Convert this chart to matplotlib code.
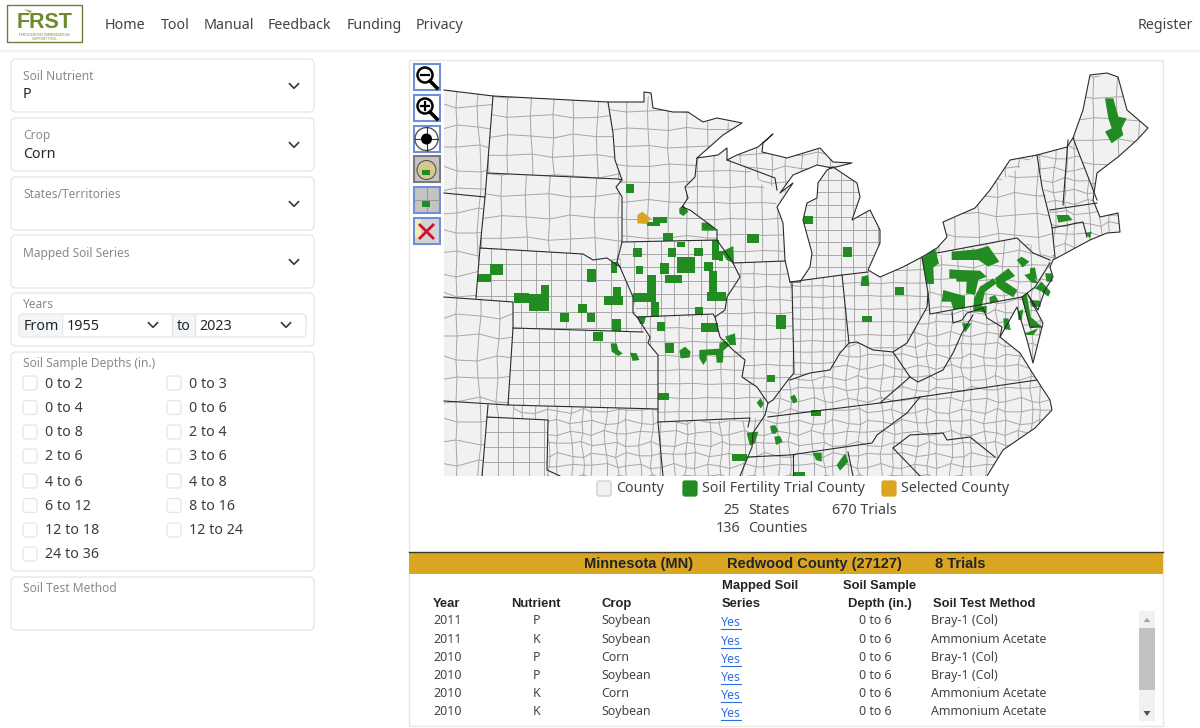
import matplotlib
matplotlib.use("Agg")
import matplotlib.pyplot as plt
from matplotlib.patches import FancyBboxPatch, Rectangle, Polygon, Circle, PathPatch
from matplotlib.collections import LineCollection
from matplotlib.path import Path

plt.rcParams['font.family'] = ['Noto Sans', 'DejaVu Sans']

GREEN = '#228b22'
GOLD = '#daa520'
LAND = '#f1f1f1'
COUNTY = '#a6a6a6'
INK = '#212529'
MUTED = '#858b90'
EDGE = '#e3e5e8'
BOLD_FONT = ['Liberation Sans', 'DejaVu Sans']

nav_items = [("Home", 105), ("Tool", 161), ("Manual", 204), ("Feedback", 268), ("Funding", 347), ("Privacy", 416)]
select_labels = ["Soil Nutrient", "Crop", "States/Territories", "Mapped Soil Series"]
select_values = ["P", "Corn", "", ""]
depths_left = ["0 to 2", "0 to 4", "0 to 8", "2 to 6", "4 to 6", "6 to 12", "12 to 18", "24 to 36"]
depths_right = ["0 to 3", "0 to 6", "2 to 4", "3 to 6", "4 to 8", "8 to 16", "12 to 24"]

trial_years = ["2011", "2011", "2010", "2010", "2010", "2010"]
trial_nutrients = ["P", "K", "P", "P", "K", "K"]
trial_crops = ["Soybean", "Soybean", "Corn", "Soybean", "Corn", "Soybean"]
trial_depths = ["0 to 6"] * 6
trial_methods = ["Bray-1 (Col)", "Ammonium Acetate", "Bray-1 (Col)", "Bray-1 (Col)", "Ammonium Acetate", "Ammonium Acetate"]

# map shapes, in screenshot pixels
coast = [(444,90),(493,96),(608,102),(644,102),(644,92),(651,93),(653,108),(673,112),(688,112),(703,122),(717,118),
         (742,123),(723,135),(697,158),(718,155),(727,148),(727,160),(737,155),(758,147),(773,134),(763,143),(762,152),
         (787,158),(820,148),(833,162),(852,163),(832,168),(817,165),(793,175),(780,193),(793,183),(777,207),(783,223),
         (785,260),(790,282),(800,282),(810,267),(812,253),(803,220),(807,203),(817,198),(818,183),(827,170),(833,167),
         (857,183),(860,197),(852,220),(870,210),(880,230),(880,243),(868,270),(880,277),(903,267),(922,257),(937,248),
         (947,237),(943,222),(975,208),(990,190),(1010,160),(1037,155),(1067,147),(1073,138),(1083,110),(1090,75),
         (1107,73),(1118,77),(1127,110),(1148,128),(1137,140),(1118,157),(1097,173),(1093,200),(1100,217),(1118,213),
         (1120,232),(1107,233),(1090,240),(1053,260),(1050,267),(1053,277),(1045,290),(1038,310),(1027,293),(1043,323),
         (1033,363),(1027,340),(1017,307),(1000,337),(1020,353),(1035,377),(1050,400),(1052,410),(1035,428),(1003,450),
         (987,476),(444,476)]

state_borders = [
    [(493,96),(487,173),(485,197),(480,248),(476,298)],
    [(487,173),(618,179),(622,180)],
    [(444,193),(485,197)],
    [(608,102),(613,133),(615,160),(622,180),(616,187),(622,197),(622,242),(717,240)],
    [(697,158),(695,177),(685,187),(688,198),(682,207),(690,210),(717,230),(717,240),(733,263),(740,277),(727,297),(725,310),(715,317)],
    [(444,297),(513,302),(513,328),(508,405),(658,409)],
    [(480,248),(583,254),(593,260),(607,258),(620,267),(633,297),(633,313),(637,317),(650,337),(648,343),(658,355),(658,422),(663,476)],
    [(622,242),(617,262),(620,267)],
    [(513,328),(643,332)],
    [(637,317),(713,314),(715,317),(720,337),(733,350),(745,360),(742,377),(757,387),(768,403),(765,415),(753,433),(752,447),(740,476)],
    [(444,401),(508,405)],
    [(488,405),(487,417),(548,420),(547,470),(560,476)],
    [(487,417),(482,476)],
    [(658,422),(750,418),(748,427)],
    [(733,263),(785,261)],
    [(792,283),(794,373),(788,380),(773,400),(768,403)],
    [(790,282),(842,275),(868,272)],
    [(842,275),(849,343),(840,353),(830,370),(810,373),(790,380)],
    [(849,343),(857,342),(873,350),(893,352),(907,343),(927,307),(928,293)],
    [(922,257),(928,293),(930,314),(1022,297),(1035,287),(1050,263)],
    [(937,253),(1017,238),(1033,253),(1050,260)],
    [(952,312),(953,323),(962,320),(967,313),(983,308),(987,318),(1002,327),(1000,337)],
    [(893,352),(910,377),(918,382),(943,370),(953,353),(962,333),(973,315)],
    [(768,417),(880,403),(920,397),(1037,380)],
    [(880,403),(910,377)],
    [(920,397),(907,413),(877,435),(872,443),(790,455),(748,457)],
    [(893,448),(910,435),(943,433),(947,440),(970,437),(995,457)],
    [(893,448),(920,476)],
    [(848,452),(853,476)],
    [(793,455),(793,476)],
    [(1022,297),(1030,327),(1042,327)],
    [(1037,155),(1042,187),(1052,227),(1055,257)],
    [(1050,210),(1097,203)],
    [(1052,228),(1083,222),(1087,237)],
    [(1063,205),(1068,140)],
    [(1073,138),(1097,200)],
    [(727,160),(775,178),(777,190)],
]

# county meshes: region outline, column step, row step, wobble
base_regions = [
    ([(440,85),(513,85),(513,480),(440,480)], 19, 21, 3),
    ([(513,400),(1160,70),(1160,480),(513,480)], 11.5, 11, 2.5),
    ([(727,140),(855,140),(855,178),(790,195),(727,165)], 15, 14, 2),
]
state_regions = [
    ([(493,96),(608,102),(613,133),(615,160),(622,180),(487,173)], 22, 20, 2),
    ([(487,173),(622,180),(616,187),(622,197),(622,242),(620,267),(607,258),(593,260),(583,254),(480,248)], 23, 22, 2),
    ([(608,102),(644,102),(651,93),(653,108),(688,112),(703,122),(742,123),(697,158),(695,177),(685,187),(688,198),
      (682,207),(690,210),(717,230),(717,240),(622,242),(622,197),(616,187),(622,180),(615,160),(613,133)], 20, 18, 1.5),
    ([(480,248),(583,254),(593,260),(607,258),(620,267),(633,297),(637,317),(650,337),(643,332),(513,328),(513,302),(476,298)], 15, 16, 0),
    ([(622,242),(717,240),(733,263),(740,277),(727,297),(725,310),(715,317),(637,317),(633,297),(620,267)], 13.5, 13.5, 0),
    ([(513,328),(643,332),(650,337),(648,343),(658,355),(658,409),(508,405)], 15.3, 14, 0),
    ([(637,317),(713,314),(720,337),(733,350),(745,360),(742,377),(757,387),(768,403),(765,415),(748,420),(658,422),(658,355),(648,343),(650,337)], 14, 14, 0.7),
    ([(733,263),(785,261),(792,283),(794,373),(788,380),(773,400),(768,403),(757,387),(742,377),(745,360),(733,350),(720,337),(715,317),(725,310),(727,297),(740,277)], 13, 13, 0.7),
    ([(790,282),(842,275),(849,343),(840,353),(830,370),(810,373),(790,380),(794,373)], 11, 11, 0.5),
    ([(842,275),(868,272),(880,277),(903,267),(922,257),(928,293),(927,307),(907,343),(893,352),(873,350),(857,342),(849,343)], 13, 13, 0.5),
    ([(812,253),(803,220),(807,203),(817,198),(818,183),(827,170),(833,167),(857,183),(860,197),(852,220),(870,210),(880,230),(880,243),(868,272),(810,280)], 12.5, 12.5, 0),
    ([(697,158),(718,155),(745,165),(775,200),(783,223),(785,261),(733,263),(717,240),(717,230),(690,210),(682,207),(688,198),(685,187),(695,177)], 16, 16, 0.7),
    ([(487,417),(548,420),(547,476),(482,476)], 15.5, 15, 0),
    ([(928,258),(1017,238),(1033,253),(1050,262),(1035,287),(1022,297),(930,314)], 15, 14, 2),
    ([(943,222),(1037,155),(1052,227),(1055,257),(1017,238),(937,253)], 20, 20, 2.5),
    ([(1073,138),(1083,110),(1090,75),(1118,77),(1148,128),(1097,200)], 22, 22, 2),
]
wiggle = [0, 2, -3, 1, 3, -2, -1, 3, -3, 2, 1, -2, 3, -1, -3, 2, 0, -2]

west_origin = (440, 180)
east_origin = (790, 60)
west_rects = [(557,12,583,38),(620,125,660,138),(640,112,682,130),(668,158,700,183),(710,185,735,200),(578,205,605,232),
              (684,204,708,230),(762,204,788,228),(816,180,838,240),(838,212,850,243),(922,162,958,188),(512,245,530,280),
              (150,252,190,285),(115,283,152,306),(442,267,467,306),(588,258,608,283),(660,250,688,283),(712,230,765,280),
              (792,247,818,272),(808,272,832,355),(675,285,725,310),(622,285,648,340),(578,340,648,365),(632,365,658,410),
              (802,335,858,362),(765,382,790,405),(222,338,268,368),(268,342,328,393),(303,316,328,342),(492,348,550,375),
              (518,322,544,350),(414,373,440,400),(360,400,386,425),(440,400,464,426),(516,417,544,452),(458,455,490,482),
              (652,426,674,452),(783,428,833,455),(1008,406,1038,446),(674,490,702,520),(980,585,1006,605),(654,638,686,660),
              (875,822,920,842),(1060,875,1080,888)]
west_polys = [
    [(718,85),(730,75),(745,95),(730,108),(718,100)], [(785,128),(805,128),(830,152),(785,152)],
    [(845,215),(880,198),(882,250),(860,240)], [(512,490),(530,490),(535,510),(548,520),(535,528),(515,515)],
    [(570,518),(590,520),(598,540),(578,543)], [(718,512),(735,500),(752,515),(748,533),(722,535)],
    [(778,510),(850,505),(850,530),(848,548),(830,548),(828,525),(800,525),(800,540),(790,555),(778,535)],
    [(838,490),(855,482),(870,495),(850,512),(838,510)], [(855,470),(885,460),(888,495),(870,495)],
    [(950,668),(962,655),(972,672),(962,685)], [(1052,655),(1062,643),(1072,660),(1062,670)],
    [(990,738),(1005,735),(1015,752),(1005,762),(995,760)], [(1003,770),(1020,768),(1028,785),(1008,795)],
    [(920,758),(955,755),(945,790),(930,797),(925,780)], [(592,410),(618,410),(612,432),(600,432)],
]
east_rects = [(42,468,68,493),(158,562,185,590),(316,680,343,705),(216,768,245,787),(62,1050,92,1068),(12,1237,46,1248)]
east_polys = [
    [(945,115),(970,115),(985,170),(1010,175),(995,205),(1000,225),(965,250),(945,215),(965,205),(955,175)],
    [(800,465),(835,465),(848,480),(805,488)], [(885,520),(905,515),(900,535)],
    [(215,650),(235,645),(238,678),(212,678)], [(0,1010),(15,1005),(22,1025),(10,1030)],
    [(68,1178),(95,1178),(95,1205),(78,1200)], [(140,1215),(165,1180),(175,1205),(150,1232)],
    [(395,595),(435,565),(447,610),(430,622),(432,672),(410,672)],
    [(485,575),(560,568),(595,558),(628,605),(595,620),(565,600),(485,600)],
    [(478,628),(510,630),(570,632),(590,650),(565,660),(555,705),(528,700),(530,665),(500,665),(498,655),(478,655)],
    [(460,690),(495,700),(525,708),(525,745),(490,748),(483,725),(455,725)],
    [(570,680),(610,655),(620,670),(585,695),(575,740),(550,745),(552,715)],
    [(550,740),(590,738),(590,760),(570,755),(550,755)],
    [(615,655),(655,625),(675,648),(645,665),(682,690),(670,712),(640,695),(620,680)],
    [(598,712),(615,705),(625,722),(600,732)], [(680,600),(695,590),(718,605),(698,622)],
    [(720,625),(735,622),(742,660),(720,650)], [(703,645),(720,640),(745,670),(725,668)],
    [(735,685),(755,665),(782,695),(775,710),(755,695)], [(765,640),(785,640),(788,665),(770,665)],
    [(695,710),(710,700),(722,770),(755,800),(720,805),(708,760)], [(720,720),(750,722),(752,740),(725,740)],
    [(640,775),(655,775),(662,810),(642,808)], [(683,755),(700,748),(695,780),(685,780)],
    [(705,820),(745,805),(730,825),(710,825)], [(516,790),(545,790),(525,818)],
]
selected_county = [(592,130),(592,105),(607,95),(632,115),(620,132)]

fig = plt.figure(figsize=(12, 7.28), dpi=100)
ax = fig.add_axes([0, 0, 1, 1])
ax.set_xlim(0, 1200)
ax.set_ylim(728, 0)
ax.axis('off')


def label(x, y, s, size=14.3, color=INK, ha='left', weight='normal'):
    fam = BOLD_FONT if weight == 'bold' else plt.rcParams['font.family']
    return ax.text(x, y + 1, s, fontsize=size * 0.72, color=color, ha=ha, va='center', fontweight=weight, family=fam)


def panel(x0, y0, x1, y1, fc='white', ec=EDGE, r=5):
    ax.add_patch(FancyBboxPatch((x0 + r, y0 + r), x1 - x0 - 2 * r, y1 - y0 - 2 * r, boxstyle=f"round,pad={r},rounding_size={r}",
                                fc=fc, ec=ec, lw=0.9))


def chevron(x, y):
    ax.plot([x - 4.5, x, x + 4.5], [y - 2.3, y + 2.3, y - 2.3], color='#343a40', lw=1.2)


def from_crop(pts, origin):
    return [(origin[0] + p[0] / 3, origin[1] + p[1] / 3) for p in pts]


def rect_pts(r):
    return [(r[0], r[1]), (r[2], r[1]), (r[2], r[3]), (r[0], r[3])]


# navbar
ax.add_patch(Rectangle((0, 50), 1200, 1, fc='#e9e9e9', ec='none'))
ax.add_patch(Rectangle((0, 51), 1200, 2, fc='#f7f7f7', ec='none'))
ax.add_patch(Rectangle((7, 5), 75, 37, fc='white', ec='#6f7d3a', lw=1))
ax.text(44.5, 22.5, "FRST", fontsize=15.5, fontweight='bold', family=BOLD_FONT, color='#6d8b2a', ha='center', va='center')
ax.text(44.5, 36.5, "FERTILIZER RECOMMENDATION\nSUPPORT TOOL", fontsize=2.4, color='#6d8b2a', ha='center', va='center', linespacing=1)
ax.add_patch(Polygon([(24, 9), (32, 11), (30, 13)], fc='#8aa93a', ec='none'))
for name, x in nav_items:
    label(x, 24.5, name, color='#3f4448')
label(1193, 24.5, "Register", color='#3f4448', ha='right')

# form panels
select_tops = [59, 118, 177, 235]
for top, name, value in zip(select_tops, select_labels, select_values):
    panel(11, top, 314, top + 53)
    label(23, top + 17, name, size=12, color=MUTED)
    if value:
        label(23, top + 35, value)
    chevron(294, top + 27)

panel(11, 293, 314, 346)
label(23, 303, "Years", size=12, color=MUTED)
panel(19, 314, 306, 337, r=4)
ax.add_patch(Rectangle((20, 315), 41, 21, fc='#f3f5f7', ec='none'))
ax.add_patch(Rectangle((172, 315), 23, 21, fc='#f3f5f7', ec='none'))
ax.plot([61.5, 61.5], [315, 336], color=EDGE, lw=1)
ax.plot([172, 172], [315, 336], color=EDGE, lw=1)
ax.plot([195, 195], [315, 336], color=EDGE, lw=1)
label(24, 325, "From")
label(67, 325, "1955")
label(177, 325, "to")
label(199, 325, "2023")
chevron(153, 325)
chevron(286, 325)

panel(11, 352, 314, 571)
label(23, 362, "Soil Sample Depths (in.)", size=12, color=MUTED)
row_y = [383, 407.5, 432, 456, 481, 505.5, 530, 554]
for y, name in zip(row_y, depths_left):
    panel(23, y - 7, 37, y + 7, r=3)
    label(45, y, name, color='#3a3f44')
for y, name in zip(row_y, depths_right):
    panel(167, y - 7, 181, y + 7, r=3)
    label(189, y, name, color='#3a3f44')

panel(11, 577, 314, 630)
label(23, 587, "Soil Test Method", size=12, color=MUTED)

# map panel
ax.add_patch(Rectangle((408.5, 59.5), 754, 666, fc='white', ec='#e6e6e6', lw=1))
ax.add_patch(Polygon(coast, closed=True, fc=LAND, ec='none', zorder=1))


def mesh_lines(poly, dx, dy, wob):
    xs = [p[0] for p in poly]
    ys = [p[1] for p in poly]
    x0, x1, y0, y1 = min(xs), max(xs), min(ys), max(ys)
    cols = [x0 + i * dx for i in range(int((x1 - x0) / dx) + 2)]
    rows = [y0 + j * dy for j in range(int((y1 - y0) / dy) + 2)]

    def node(i, j):
        return (cols[i] + wiggle[(i * 5 + j * 3) % len(wiggle)] * wob / 3,
                rows[j] + wiggle[(i * 7 + j * 2) % len(wiggle)] * wob / 3)

    segs = [[node(i, j) for i in range(len(cols))] for j in range(len(rows))]
    segs += [[node(i, j) for j in range(len(rows))] for i in range(len(cols))]
    return segs


def draw_mesh(poly, dx, dy, wob, z):
    lc = LineCollection(mesh_lines(poly, dx, dy, wob), colors=COUNTY, linewidths=0.7, zorder=z)
    ax.add_collection(lc)
    lc.set_clip_path(Polygon(poly, closed=True, transform=ax.transData))


for poly, dx, dy, wob in base_regions:
    draw_mesh(poly, dx, dy, wob, 2)
for poly, dx, dy, wob in state_regions:
    ax.add_patch(Polygon(poly, closed=True, fc=LAND, ec='none', zorder=2.1))
    draw_mesh(poly, dx, dy, wob, 2.2)

# cut anything outside the land outline back to white
outside = [(420, 62), (1162, 62), (1162, 480), (420, 480), (420, 62)] + coast[::-1] + [coast[-1]]
codes = [Path.MOVETO] + [Path.LINETO] * 3 + [Path.CLOSEPOLY] + [Path.MOVETO] + [Path.LINETO] * (len(coast) - 1) + [Path.CLOSEPOLY]
ax.add_patch(PathPatch(Path(outside, codes), fc='white', ec='none', zorder=2.5))

for r in west_rects:
    ax.add_patch(Polygon(from_crop(rect_pts(r), west_origin), closed=True, fc=GREEN, ec='none', zorder=3))
for r in east_rects:
    ax.add_patch(Polygon(from_crop(rect_pts(r), east_origin), closed=True, fc=GREEN, ec='none', zorder=3))
for pts in west_polys:
    ax.add_patch(Polygon(from_crop(pts, west_origin), closed=True, fc=GREEN, ec='none', zorder=3))
for pts in east_polys:
    ax.add_patch(Polygon(from_crop(pts, east_origin), closed=True, fc=GREEN, ec='none', zorder=3))
ax.add_patch(Polygon(from_crop(selected_county, west_origin), closed=True, fc=GOLD, ec='none', zorder=3))

for line in state_borders:
    ax.plot([p[0] for p in line], [p[1] for p in line], color='#2b2b2b', lw=0.8, zorder=4, solid_joinstyle='round')
ax.plot([p[0] for p in coast[:-1]], [p[1] for p in coast[:-1]], color='#2b2b2b', lw=0.8, zorder=4)
ax.add_patch(Rectangle((430, 476), 600, 4, fc='white', ec='none', zorder=5))

# zoom tools
tool_tops = [64, 95, 126, 156, 187, 218]
tool_fill = ['white', 'white', 'white', '#c4c4c4', '#c4c4c4', '#d2d2d2']
tool_edge = ['#6f8fd8', '#6f8fd8', '#6f8fd8', '#7a7a7a', '#6f8fd8', '#6f8fd8']
for top, fc, ec in zip(tool_tops, tool_fill, tool_edge):
    ax.add_patch(Rectangle((414, top), 25.5, 26, fc=fc, ec=ec, lw=1.5, zorder=6))
for top, sign in [(64, '-'), (95, '+')]:
    ax.add_patch(Circle((425, top + 11), 7.5, fc='white', ec='black', lw=1.8, zorder=7))
    ax.plot([430, 437], [top + 17, top + 24], color='black', lw=2.6, zorder=7)
    ax.plot([421, 429], [top + 11, top + 11], color='black', lw=1.6, zorder=8)
    if sign == '+':
        ax.plot([425, 425], [top + 7, top + 15], color='black', lw=1.6, zorder=8)
ax.add_patch(Circle((426.5, 139), 11.5, fc='white', ec='#555555', lw=1, zorder=7))
ax.add_patch(Circle((426.5, 139), 5.5, fc='black', ec='none', zorder=8))
ax.plot([415, 438], [139, 139], color='#333333', lw=0.8, zorder=7)
ax.plot([426.5, 426.5], [127, 151], color='#333333', lw=0.8, zorder=7)
ax.add_patch(Circle((426.5, 170), 9.5, fc='#d8c890', ec='#555555', lw=0.8, zorder=7))
ax.add_patch(Rectangle((422, 170), 8, 5, fc=GREEN, ec='none', zorder=8))
ax.plot([426.5, 426.5], [188, 212], color='#999999', lw=0.8, zorder=7)
ax.plot([415, 439], [200, 200], color='#999999', lw=0.8, zorder=7)
ax.add_patch(Rectangle((421.5, 201), 8, 5.5, fc=GREEN, ec='none', zorder=8))
ax.add_patch(Rectangle((415, 219), 6, 18, fc='#f6e9b8', ec='none', zorder=7))
ax.plot([420, 433], [225, 238], color='#c8102e', lw=2, zorder=8)
ax.plot([420, 433], [238, 225], color='#c8102e', lw=2, zorder=8)

# legend and totals
legend_items = [(597, LAND, "County", 616), (683, GREEN, "Soil Fertility Trial County", 702), (882, GOLD, "Selected County", 901)]
for x, fc, name, tx in legend_items:
    ec = '#cccccc' if fc == LAND else fc
    panel(x, 481, x + 14, 496, fc=fc, ec=ec, r=2)
    label(tx, 488, name, color='#3f4448')
label(740, 510, "25", ha='right', color='#3f4448')
label(748, 510, "States", color='#3f4448')
label(832, 510, "670 Trials", color='#3f4448')
label(740, 527, "136", ha='right', color='#3f4448')
label(748, 527, "Counties", color='#3f4448')

# selected county table
ax.add_patch(Rectangle((409, 552), 754, 22, fc=GOLD, ec='none'))
ax.plot([409, 1163], [551.5, 551.5], color='#3a3a2a', lw=1)
label(584, 563, "Minnesota (MN)", size=14.6, weight='bold')
label(727, 563, "Redwood County (27127)", size=14.6, weight='bold')
label(935, 563, "8 Trials", size=14.6, weight='bold')

hdr = 13
label(433, 603, "Year", size=hdr, weight='bold')
label(511, 603, "Nutrient", size=hdr, weight='bold')
label(602, 603, "Crop", size=hdr, weight='bold')
label(722, 585, "Mapped Soil", size=hdr, weight='bold')
label(722, 603, "Series", size=hdr, weight='bold')
label(880, 585, "Soil Sample", size=hdr, ha='center', weight='bold')
label(880, 603, "Depth (in.)", size=hdr, ha='center', weight='bold')
label(933, 603, "Soil Test Method", size=hdr, weight='bold')

table_y = [620, 639, 657, 675, 693, 711]
body = 12.4
for y, yr, nut, crop, depth, method in zip(table_y, trial_years, trial_nutrients, trial_crops, trial_depths, trial_methods):
    label(433, y - 0.5, yr, size=body, color='#3f4448')
    label(537, y - 0.5, nut, size=body, color='#3f4448', ha='center')
    label(601, y - 0.5, crop, size=body, color='#3f4448')
    label(721, y + 1.5, "Yes", size=body, color='#2f6fdb')
    ax.plot([721, 741], [y + 9, y + 9], color='#2f6fdb', lw=0.8)
    label(875, y - 0.5, depth, size=body, color='#3f4448', ha='center')
    label(931, y - 0.5, method, size=body, color='#3f4448')

# scrollbar
ax.add_patch(Rectangle((1139, 611), 16, 110, fc='#f1f1f1', ec='none'))
ax.add_patch(Rectangle((1139, 628), 16, 62, fc='#c1c1c1', ec='none'))
ax.add_patch(Polygon([(1143.5, 622), (1147, 618), (1150.5, 622)], fc='#a3a3a3', ec='none'))
ax.add_patch(Polygon([(1143.5, 711), (1147, 716), (1150.5, 711)], fc='#505050', ec='none'))

fig.savefig("out.png", dpi=100)
